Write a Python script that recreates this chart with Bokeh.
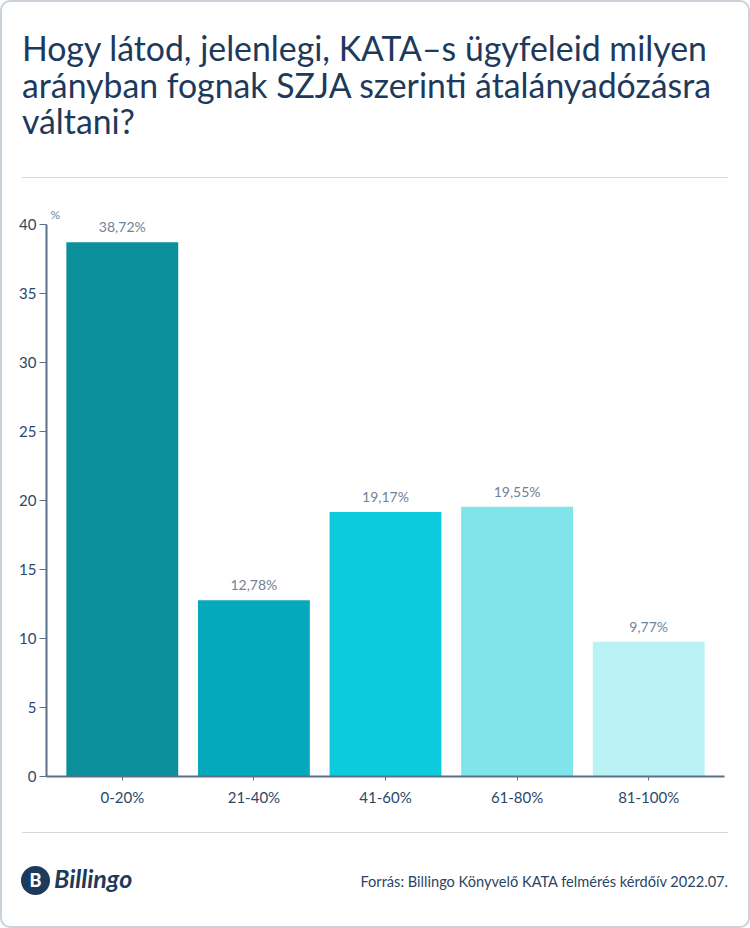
from bokeh.plotting import figure
from bokeh.models import ColumnDataSource, FactorRange, Range1d, Label, LabelSet, FixedTicker, Div
from bokeh.layouts import column
from bokeh.core.properties import value
from bokeh.embed import file_html
from bokeh.resources import INLINE

# Survey answers: expected share of KATA clients switching to flat-rate SZJA
categories = ["0-20%", "21-40%", "41-60%", "61-80%", "81-100%"]
shares = [38.72, 12.78, 19.17, 19.55, 9.77]
bar_colors = ["#0b8f9a", "#04a9bb", "#0bcbdc", "#80e4eb", "#b9f1f5"]
y_ticks = [0, 5, 10, 15, 20, 25, 30, 35, 40]

title_lines = [
    "Hogy látod, jelenlegi, KATA–s ügyfeleid milyen",
    "arányban fognak SZJA szerinti átalányadózásra",
    "váltani?",
]
source_note = "Forrás: Billingo Könyvelő KATA felmérés kérdőív 2022.07."
brand = "Billingo"

NAVY = "#1d3a5c"
AXIS = "#5b7089"
TICK_TXT = "#2c4868"
VAL_TXT = "#6f8399"
RULE = "#d3dae1"
FONT = "Lato"

INNER_W = 746            # card content width (2px card border on each side)
HEAD_H, FIG_H, FOOT_H = 188, 632, 104
FRAME_TOP, FRAME_BOTTOM = 10, 586      # inside the chart figure
AXIS_TOP = 34                          # where the value 40 sits
Y_MAX = 40
px_per_unit = (FRAME_BOTTOM - AXIS_TOP) / Y_MAX

value_labels = [f"{v:.2f}".replace(".", ",") + "%" for v in shares]
src = ColumnDataSource(dict(cat=categories, share=shares, color=bar_colors, label=value_labels))

pad = 0.076
p = figure(
    x_range=FactorRange(*categories, range_padding=pad, range_padding_units="absolute"),
    y_range=Range1d(0, (FRAME_BOTTOM - FRAME_TOP) / px_per_unit),
    width=INNER_W, height=FIG_H,
    output_backend="svg", toolbar_location=None,
    min_border_left=44, min_border_right=24,
    min_border_top=FRAME_TOP, min_border_bottom=FIG_H - FRAME_BOTTOM,
    background_fill_color="white", border_fill_color="white", outline_line_color=None,
    margin=0,
)

p.vbar(x="cat", top="share", width=0.85, color="color", line_color=None, source=src)

p.add_layout(LabelSet(x="cat", y="share", text="label", source=src, y_offset=7,
                      text_align="center", text_baseline="bottom",
                      text_font=value(FONT), text_font_size="14px", text_color=VAL_TXT))

p.xgrid.grid_line_color = None
p.ygrid.grid_line_color = None

for ax in (p.xaxis, p.yaxis):
    ax.axis_line_color = AXIS
    ax.axis_line_width = 2
    ax.major_tick_line_color = AXIS
    ax.major_tick_in = 0
    ax.minor_tick_line_color = None
    ax.major_label_text_font = FONT
    ax.major_label_text_font_size = "15px"
    ax.major_label_text_color = TICK_TXT

p.xaxis.major_tick_out = 4
p.xaxis.major_label_standoff = 7
p.yaxis.major_tick_out = 7
p.yaxis.major_label_standoff = 3
p.yaxis.ticker = FixedTicker(ticks=y_ticks)
p.yaxis.bounds = (0, Y_MAX)

# unit marker next to the top of the value axis
p.add_layout(Label(x=-pad + 4 / 131.6, y=Y_MAX, y_offset=3, text="%",
                   text_font=FONT, text_font_size="12px", text_color=VAL_TXT,
                   text_baseline="bottom", text_align="left"))

head_html = f"""
<div style="position:relative;width:{INNER_W}px;height:{HEAD_H}px;">
  <div style="position:absolute;left:20px;top:28px;font-family:{FONT};font-size:33.8px;
              line-height:36.5px;color:{NAVY};white-space:nowrap;">{'<br>'.join(title_lines)}</div>
  <div style="position:absolute;left:20px;top:175px;width:706px;height:0;
              border-top:1.5px solid {RULE};"></div>
</div>"""

foot_html = f"""
<div style="position:relative;width:{INNER_W}px;height:{FOOT_H}px;">
  <div style="position:absolute;left:20px;top:10px;width:706px;height:0;
              border-top:1.5px solid {RULE};"></div>
  <div style="position:absolute;left:19px;top:44px;width:29px;height:29px;border-radius:50%;
              background:{NAVY};color:white;font-family:{FONT};font-weight:900;font-size:18px;
              line-height:29px;text-align:center;">B</div>
  <div style="position:absolute;left:52px;top:44px;font-family:{FONT};font-weight:bold;
              font-style:italic;font-size:25px;line-height:25px;color:{NAVY};">{brand}</div>
  <div style="position:absolute;right:20px;top:53px;font-family:{FONT};font-size:14.6px;
              line-height:14.6px;color:#2a4566;white-space:nowrap;">{source_note}</div>
</div>"""

head = Div(text=head_html, width=INNER_W, height=HEAD_H, margin=0)
foot = Div(text=foot_html, width=INNER_W, height=FOOT_H, margin=0)

card = column(head, p, foot, spacing=0, margin=0,
              styles={"border": "2px solid #c9d2db", "border-radius": "10px",
                      "background-color": "white", "overflow": "hidden"})

open("out.html", "w").write(file_html(card, INLINE))
